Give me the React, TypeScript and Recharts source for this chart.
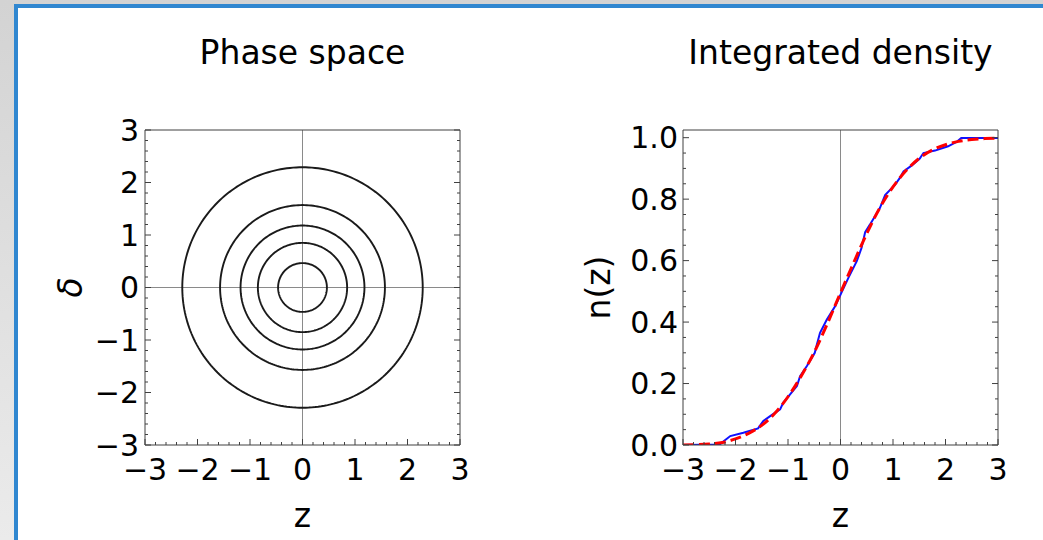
import React from 'react';
import { ComposedChart, Line, XAxis, YAxis, ReferenceLine } from 'recharts';

const FONT = '"DejaVu Sans", "Liberation Sans", sans-serif';
const TICK_FS = 30;
const LABEL_FS = 33;
const FRAME = '#404040';
const GUIDE = '#8a8a8a';
const MAJOR_LEN = 6;
const MINOR_LEN = 3;

// ---------------- data ----------------
const zMajorTicks = [-3, -2, -1, 0, 1, 2, 3];
const deltaMajorTicks = [-3, -2, -1, 0, 1, 2, 3];
const nMajorTicks = [0, 0.2, 0.4, 0.6, 0.8, 1.0];

// radii of the phase-space orbits
const circleRadii = [0.465, 0.85, 1.18, 1.57, 2.29];

// empirical integrated density (blue)
const sampleZ = [-3, -2.3, -2.1, -1.85, -1.57, -1.47, -1.34, -1.15, -1.09, -0.96, -0.83, -0.77, -0.64, -0.49, -0.45, -0.39, -0.26, -0.1, 0.03, 0.15, 0.31, 0.4, 0.47, 0.56, 0.75, 0.85, 1.04, 1.13, 1.2, 1.36, 1.51, 1.58, 1.8, 2.05, 2.21, 2.3, 3];
const sampleN = [0, 0.002, 0.029, 0.04, 0.054, 0.078, 0.094, 0.116, 0.138, 0.165, 0.192, 0.224, 0.257, 0.3, 0.327, 0.365, 0.408, 0.452, 0.5, 0.544, 0.598, 0.641, 0.693, 0.717, 0.771, 0.813, 0.847, 0.869, 0.89, 0.91, 0.932, 0.95, 0.958, 0.972, 0.986, 0.999, 0.999];

// model integrated density (red dashed)
const modelZ = [-3, -2.75, -2.5, -2.25, -2, -1.75, -1.5, -1.25, -1, -0.75, -0.5, -0.25, 0, 0.25, 0.5, 0.75, 1, 1.25, 1.5, 1.75, 2, 2.25, 2.5, 2.75, 3];
const modelN = [0, 0.001, 0.003, 0.008, 0.02, 0.038, 0.064, 0.103, 0.157, 0.224, 0.302, 0.395, 0.495, 0.593, 0.688, 0.772, 0.84, 0.893, 0.933, 0.96, 0.977, 0.988, 0.994, 0.997, 0.998];

// ---------------- helpers ----------------
const subdivide = (majors: number[], parts: number) => {
  const out: number[] = [];
  for (let i = 0; i < majors.length - 1; i++) {
    const a = majors[i];
    const b = majors[i + 1];
    for (let k = 0; k < parts; k++) out.push(+(a + ((b - a) * k) / parts).toFixed(4));
  }
  out.push(majors[majors.length - 1]);
  return out;
};
const zAllTicks = subdivide(zMajorTicks, 5);
const deltaAllTicks = subdivide(deltaMajorTicks, 5);
const nAllTicks = subdivide(nMajorTicks, 4);

const isIn = (arr: number[], v: number) => arr.some((m) => Math.abs(m - v) < 1e-6);
const fmtInt = (v: number) => (v < 0 ? '\u2212' + Math.abs(v) : String(v));
const fmtDec = (v: number) => v.toFixed(1);

const circles = circleRadii.map((r) =>
  Array.from({ length: 241 }, (_, i) => {
    const t = (i / 240) * 2 * Math.PI;
    return { x: r * Math.cos(t), y: r * Math.sin(t) };
  })
);
const sampleData = sampleZ.map((z, i) => ({ x: z, y: sampleN[i] }));
const modelData = modelZ.map((z, i) => ({ x: z, y: modelN[i] }));

type Orient = 'bottom' | 'top' | 'left' | 'right';
const makeTick =
  (orient: Orient, majors: number[], fmt: ((v: number) => string) | null, gap: number) =>
  (props: any) => {
    const { x, y, payload } = props;
    const v = Number(payload.value);
    const major = isIn(majors, v);
    const len = major ? MAJOR_LEN : MINOR_LEN;
    let x2 = x;
    let y2 = y;
    if (orient === 'bottom') y2 = y - len;
    else if (orient === 'top') y2 = y + len;
    else if (orient === 'left') x2 = x + len;
    else x2 = x - len;
    let label: any = null;
    if (major && fmt) {
      if (orient === 'bottom') {
        label = (
          <text x={x} y={y + gap} dy="0.71em" textAnchor="middle" fontFamily={FONT} fontSize={TICK_FS} fill="#000">
            {fmt(v)}
          </text>
        );
      } else if (orient === 'left') {
        label = (
          <text x={x - gap} y={y} dy="0.36em" textAnchor="end" fontFamily={FONT} fontSize={TICK_FS} fill="#000">
            {fmt(v)}
          </text>
        );
      }
    }
    return (
      <g>
        <line x1={x} y1={y} x2={x2} y2={y2} stroke={FRAME} strokeWidth={1} />
        {label}
      </g>
    );
  };

// bottom-axis label: draws the axis title "z" below and the panel title above the plot
const xLabelAndTitle = (text: string, title: string, plotHeight: number) => (props: any) => {
  const vb = props.viewBox || {};
  const cx = vb.x + vb.width / 2;
  return (
    <g>
      <text x={cx} y={vb.y + 82} textAnchor="middle" fontFamily={FONT} fontSize={LABEL_FS} fill="#000">
        {text}
      </text>
      <text x={cx} y={vb.y - plotHeight - 66} textAnchor="middle" fontFamily={FONT} fontSize={LABEL_FS} fill="#000">
        {title}
      </text>
    </g>
  );
};
const yLabel = (text: string, offset: number, italic: boolean) => (props: any) => {
  const vb = props.viewBox || {};
  const bx = vb.x + vb.width - offset;
  const cy = vb.y + vb.height / 2;
  return (
    <text
      x={bx}
      y={cy}
      transform={`rotate(-90, ${bx}, ${cy})`}
      textAnchor="middle"
      fontFamily={FONT}
      fontSize={LABEL_FS}
      fontStyle={italic ? 'italic' : 'normal'}
      fill="#000"
    >
      {text}
    </text>
  );
};

const axisCommon = {
  type: 'number' as const,
  interval: 0 as const,
  tickSize: 0,
  tickMargin: 0,
  tickLine: false,
  allowDataOverflow: true,
  axisLine: { stroke: FRAME, strokeWidth: 1 },
};

const PLOT_H = 315;

function PhaseChart() {
  return (
    <ComposedChart width={520} height={540} margin={{ top: 129, right: 59, bottom: 0, left: 0 }}>
      <XAxis
        {...axisCommon}
        xAxisId="b"
        dataKey="x"
        domain={[-3, 3]}
        ticks={zAllTicks}
        height={95}
        tick={makeTick('bottom', zMajorTicks, fmtInt, 14)}
        label={{ content: xLabelAndTitle('z', 'Phase space', PLOT_H) }}
      />
      <XAxis
        {...axisCommon}
        xAxisId="t"
        orientation="top"
        domain={[-3, 3]}
        ticks={zAllTicks}
        height={1}
        tick={makeTick('top', zMajorTicks, null, 0)}
      />
      <YAxis
        {...axisCommon}
        yAxisId="l"
        domain={[-3, 3]}
        ticks={deltaAllTicks}
        width={145}
        tick={makeTick('left', deltaMajorTicks, fmtInt, 6)}
        label={{ content: yLabel('\u03b4', 63, true) }}
      />
      <YAxis
        {...axisCommon}
        yAxisId="r"
        orientation="right"
        domain={[-3, 3]}
        ticks={deltaAllTicks}
        width={1}
        tick={makeTick('right', deltaMajorTicks, null, 0)}
      />
      <ReferenceLine xAxisId="b" yAxisId="l" x={0} stroke={GUIDE} strokeWidth={1} />
      <ReferenceLine xAxisId="b" yAxisId="l" y={0} stroke={GUIDE} strokeWidth={1} />
      {circles.map((c, i) => (
        <Line
          key={i}
          xAxisId="b"
          yAxisId="l"
          data={c}
          dataKey="y"
          type="linear"
          dot={false}
          activeDot={false}
          stroke="#1a1a1a"
          strokeWidth={1.9}
          isAnimationActive={false}
        />
      ))}
    </ComposedChart>
  );
}

function DensityChart() {
  return (
    <ComposedChart width={523} height={540} margin={{ top: 129, right: 44, bottom: 0, left: 0 }}>
      <XAxis
        {...axisCommon}
        xAxisId="b"
        dataKey="x"
        domain={[-3, 3]}
        ticks={zAllTicks}
        height={95}
        tick={makeTick('bottom', zMajorTicks, fmtInt, 14)}
        label={{ content: xLabelAndTitle('z', 'Integrated density', PLOT_H) }}
      />
      <XAxis
        {...axisCommon}
        xAxisId="t"
        orientation="top"
        domain={[-3, 3]}
        ticks={zAllTicks}
        height={1}
        tick={makeTick('top', zMajorTicks, null, 0)}
      />
      <YAxis
        {...axisCommon}
        yAxisId="l"
        domain={[0, 1.025]}
        ticks={nAllTicks}
        width={163}
        tick={makeTick('left', nMajorTicks, fmtDec, 5)}
        label={{ content: yLabel('n(z)', 73, false) }}
      />
      <YAxis
        {...axisCommon}
        yAxisId="r"
        orientation="right"
        domain={[0, 1.025]}
        ticks={nAllTicks}
        width={1}
        tick={makeTick('right', nMajorTicks, null, 0)}
      />
      <ReferenceLine xAxisId="b" yAxisId="l" x={0} stroke={GUIDE} strokeWidth={1} />
      <Line
        xAxisId="b"
        yAxisId="l"
        data={sampleData}
        dataKey="y"
        type="linear"
        dot={false}
        activeDot={false}
        stroke="#1010ff"
        strokeWidth={2}
        isAnimationActive={false}
      />
      <Line
        xAxisId="b"
        yAxisId="l"
        data={modelData}
        dataKey="y"
        type="monotone"
        dot={false}
        activeDot={false}
        stroke="#ff0000"
        strokeWidth={3}
        strokeDasharray="11 5"
        isAnimationActive={false}
      />
    </ComposedChart>
  );
}

export default function App() {
  return (
    <div
      style={{
        position: 'absolute',
        left: 0,
        top: 0,
        width: 1043,
        height: 540,
        overflow: 'hidden',
        background: 'linear-gradient(#d3d3d3, #ebebeb)',
      }}
    >
      <div style={{ position: 'absolute', left: 14, top: 4, right: 0, bottom: 0, background: '#3087d0' }} />
      <div style={{ position: 'absolute', left: 18, top: 8, right: 0, bottom: 0, background: '#ffffff' }} />
      <div style={{ position: 'absolute', left: 0, top: 0 }}>
        <PhaseChart />
      </div>
      <div style={{ position: 'absolute', left: 520, top: 0 }}>
        <DensityChart />
      </div>
    </div>
  );
}
